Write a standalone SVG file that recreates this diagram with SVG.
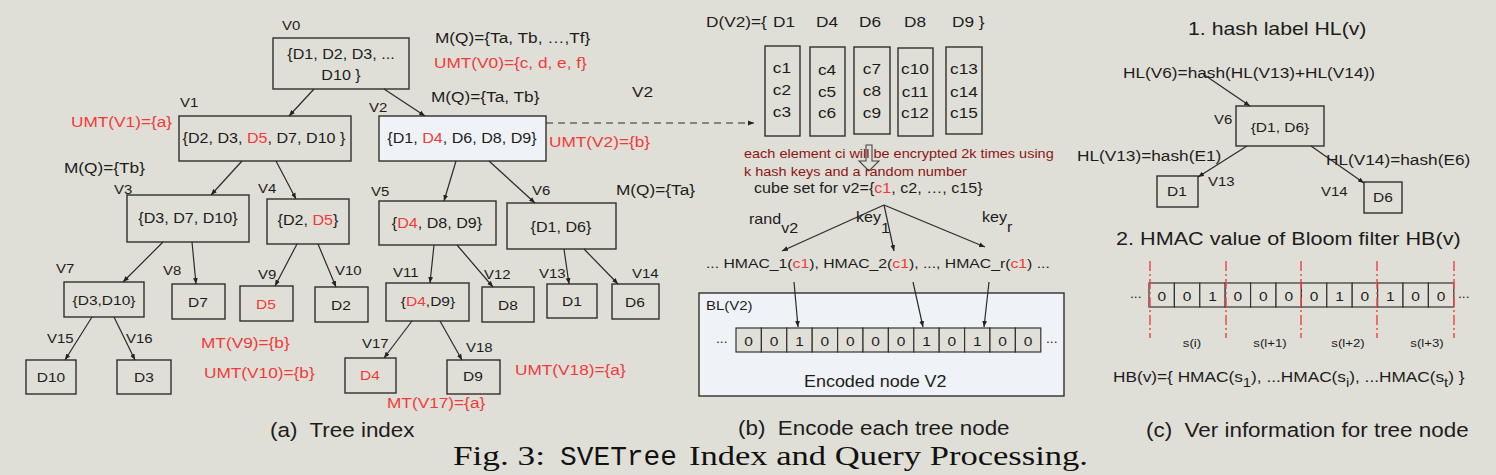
<svg xmlns="http://www.w3.org/2000/svg" width="1496" height="475" viewBox="0 0 1496 475">
<defs>
<style>
text { font-family: "Liberation Sans", Arial, sans-serif; fill: #1c1c1c; transform-box: fill-box; transform-origin: left; transform: scaleX(1.15); }
text.m { text-anchor: middle; transform-origin: center; }
text.ti { font-family: "Liberation Serif", "Times New Roman", serif; font-size: 28px; transform: none; fill: #111; }
text.tm { font-family: "Liberation Mono", "Courier New", monospace; font-size: 27px; transform: none; fill: #111; }
.r { fill: #f23a3a; }
.dr { fill: #8a1616; }
.nt { font-size: 14px; }
.ns { font-size: 13.5px; }
.lb { font-size: 15px; }
.vl { font-size: 13px; }
.cap { font-size: 19.5px; }
.box { fill: none; stroke: #2e2e2e; stroke-width: 1.4; }
.hl { fill: #eff3f8; stroke: #2e2e2e; stroke-width: 1.4; }
.edge { stroke: #2a2a2a; stroke-width: 1.2; fill: none; marker-end: url(#ah); }
.cell { fill: #e1e0d8; stroke: #333; stroke-width: 1.2; }
.sep { stroke: #f04a4a; stroke-width: 1.5; stroke-dasharray: 10 3 2 3; }
</style>
<marker id="ah" viewBox="0 0 10 10" refX="10" refY="5" markerWidth="6" markerHeight="6" orient="auto" markerUnits="userSpaceOnUse">
<path d="M0,1 L10,5 L0,9 z" fill="#222"/>
</marker>
</defs>
<rect x="0" y="0" width="1496" height="475" fill="#e0dfd7"/>

<!-- (a) tree index -->
<g id="V0"><rect class="box" x="273" y="38" width="136" height="51"/>
<text class="m nt" x="341" y="59">{D1, D2, D3, ...</text>
<text class="m nt" x="341" y="80">D10 }</text>
<text class="vl" x="282" y="30">V0</text></g>
<g id="V1"><rect class="box" x="179" y="116" width="172" height="45"/>
<text class="m nt" x="264" y="143">{D2, D3, <tspan class="r">D5</tspan>, D7, D10 }</text>
<text class="vl" x="180" y="107">V1</text></g>
<g id="V2"><rect class="hl" x="379" y="116" width="167" height="45"/>
<text class="m nt" x="462" y="143">{D1, <tspan class="r">D4</tspan>, D6, D8, D9}</text>
<text class="vl" x="369" y="112">V2</text></g>
<g id="V3"><rect class="box" x="127" y="195" width="122" height="47"/>
<text class="m nt" x="188" y="223">{D3, D7, D10}</text>
<text class="vl" x="114" y="194">V3</text></g>
<g id="V4"><rect class="box" x="267" y="199" width="82" height="45"/>
<text class="m nt" x="308" y="225">{D2, <tspan class="r">D5</tspan>}</text>
<text class="vl" x="258" y="193">V4</text></g>
<g id="V5"><rect class="box" x="379" y="201" width="117" height="44"/>
<text class="m nt" x="437" y="228">{<tspan class="r">D4</tspan>, D8, D9}</text>
<text class="vl" x="371" y="196">V5</text></g>
<g id="V6"><rect class="box" x="507" y="203" width="109" height="46"/>
<text class="m nt" x="561" y="232">{D1, D6}</text>
<text class="vl" x="532" y="195">V6</text></g>
<g id="V7"><rect class="box" x="64" y="282" width="80" height="35"/>
<text class="m ns" x="104" y="305">{D3,D10}</text>
<text class="vl" x="56" y="273">V7</text></g>
<g id="V8"><rect class="box" x="172" y="284" width="53" height="35"/>
<text class="m ns" x="198" y="307">D7</text>
<text class="vl" x="163" y="275">V8</text></g>
<g id="V9"><rect class="box" x="240" y="286" width="53" height="35"/>
<text class="m ns r" x="266" y="309">D5</text>
<text class="vl" x="258" y="279">V9</text></g>
<g id="V10"><rect class="box" x="315" y="287" width="53" height="35"/>
<text class="m ns" x="341" y="310">D2</text>
<text class="vl" x="335" y="275">V10</text></g>
<g id="V11"><rect class="box" x="386" y="283" width="83" height="38"/>
<text class="m ns" x="428" y="306">{<tspan class="r">D4</tspan>,D9}</text>
<text class="vl" x="393" y="277">V11</text></g>
<g id="V12"><rect class="box" x="482" y="287" width="52" height="35"/>
<text class="m ns" x="508" y="310">D8</text>
<text class="vl" x="484" y="279">V12</text></g>
<g id="V13"><rect class="box" x="547" y="284" width="50" height="34"/>
<text class="m ns" x="572" y="306">D1</text>
<text class="vl" x="539" y="278">V13</text></g>
<g id="V14"><rect class="box" x="612" y="284" width="47" height="35"/>
<text class="m ns" x="635" y="307">D6</text>
<text class="vl" x="632" y="278">V14</text></g>
<g id="V15"><rect class="box" x="26" y="360" width="50" height="34"/>
<text class="m ns" x="51" y="382">D10</text>
<text class="vl" x="47" y="343">V15</text></g>
<g id="V16"><rect class="box" x="117" y="360" width="54" height="34"/>
<text class="m ns" x="144" y="382">D3</text>
<text class="vl" x="126" y="343">V16</text></g>
<g id="V17"><rect class="box" x="345" y="358" width="51" height="35"/>
<text class="m ns r" x="370" y="380">D4</text>
<text class="vl" x="362" y="348">V17</text></g>
<g id="V18"><rect class="box" x="447" y="360" width="53" height="34"/>
<text class="m ns" x="473" y="381">D9</text>
<text class="vl" x="466" y="352">V18</text></g>

<g id="labels-a">
<text class="lb" x="435" y="43">M(Q)={Ta, Tb, …,Tf}</text>
<text class="lb r" x="434" y="68">UMT(V0)={c, d, e, f}</text>
<text class="lb" x="431" y="102">M(Q)={Ta, Tb}</text>
<text class="lb r" x="71" y="127">UMT(V1)={a}</text>
<text class="lb r" x="549" y="147">UMT(V2)={b}</text>
<text class="lb" x="64" y="173">M(Q)={Tb}</text>
<text class="lb" x="616" y="195">M(Q)={Ta}</text>
<text class="lb r" x="201" y="348">MT(V9)={b}</text>
<text class="lb r" x="204" y="378">UMT(V10)={b}</text>
<text class="lb r" x="515" y="375">UMT(V18)={a}</text>
<text class="lb r" x="387" y="408">MT(V17)={a}</text>
<text class="cap" x="270" y="437" xml:space="preserve">(a)  Tree index</text>
</g>

<!-- (b) encode -->
<g id="b-header">
<text class="lb" x="706" y="27">D(V2)={</text>
<text class="lb" x="773" y="27">D1</text>
<text class="lb" x="816" y="27">D4</text>
<text class="lb" x="859" y="27">D6</text>
<text class="lb" x="904" y="27">D8</text>
<text class="lb" x="952" y="27">D9 }</text>
<text class="lb" x="632" y="97">V2</text>
</g>
<g id="cubes-D1"><rect class="box" x="765" y="46" width="35" height="90"/>
<text class="m lb" x="782" y="73">c1</text><text class="m lb" x="782" y="95">c2</text><text class="m lb" x="782" y="117">c3</text></g>
<g id="cubes-D4"><rect class="box" x="810" y="47" width="35" height="89"/>
<text class="m lb" x="827" y="75">c4</text><text class="m lb" x="827" y="97">c5</text><text class="m lb" x="827" y="118">c6</text></g>
<g id="cubes-D6"><rect class="box" x="854" y="47" width="36" height="87"/>
<text class="m lb" x="872" y="74">c7</text><text class="m lb" x="872" y="96">c8</text><text class="m lb" x="872" y="118">c9</text></g>
<g id="cubes-D8"><rect class="box" x="898" y="48" width="35" height="88"/>
<text class="m lb" x="915" y="74">c10</text><text class="m lb" x="915" y="97">c11</text><text class="m lb" x="915" y="118">c12</text></g>
<g id="cubes-D9"><rect class="box" x="946" y="47" width="36" height="87"/>
<text class="m lb" x="964" y="74">c13</text><text class="m lb" x="964" y="97">c14</text><text class="m lb" x="964" y="118">c15</text></g>

<g id="encrypt-note">
<text class="dr" style="font-size:12.6px" x="744" y="158">each element ci will be encrypted 2k times using</text>
<text class="dr" style="font-size:12.6px" x="744" y="176">k hash keys and a random number</text>
<polygon points="866,145 872,145 872,161 879,161 869,171 859,161 866,161" fill="none" stroke="#444" stroke-width="1.1"/>
<text style="font-size:14px" x="754" y="193">cube set for v2={<tspan class="r">c1</tspan>, c2, …, c15}</text>
<text style="font-size:14px" x="749" y="224">rand<tspan dy="9">v2</tspan></text>
<text style="font-size:14px" x="856" y="222">key<tspan dy="11">1</tspan></text>
<text style="font-size:14px" x="982" y="222">key<tspan dy="10">r</tspan></text>
<text style="font-size:13.7px" x="706" y="268">... HMAC_1(<tspan class="r">c1</tspan>), HMAC_2(<tspan class="r">c1</tspan>), ..., HMAC_r(<tspan class="r">c1</tspan>) ...</text>
</g>

<g id="BL-V2">
<rect class="hl" x="699" y="293" width="365" height="103"/>
<text style="font-size:13px" x="706" y="310">BL(V2)</text>
<rect class="cell" x="736" y="328" width="25.4" height="24"/>
<rect class="cell" x="761.4" y="328" width="25.4" height="24"/>
<rect class="cell" x="786.8" y="328" width="25.4" height="24"/>
<rect class="cell" x="812.2" y="328" width="25.4" height="24"/>
<rect class="cell" x="837.6" y="328" width="25.4" height="24"/>
<rect class="cell" x="863" y="328" width="25.4" height="24"/>
<rect class="cell" x="888.4" y="328" width="25.4" height="24"/>
<rect class="cell" x="913.8" y="328" width="25.4" height="24"/>
<rect class="cell" x="939.2" y="328" width="25.4" height="24"/>
<rect class="cell" x="964.6" y="328" width="25.4" height="24"/>
<rect class="cell" x="990" y="328" width="25.4" height="24"/>
<rect class="cell" x="1015.4" y="328" width="25.4" height="24"/>
<g style="font-size:13.5px">
<text class="m" x="748.7" y="346">0</text><text class="m" x="774.1" y="346">0</text><text class="m" x="799.5" y="346">1</text><text class="m" x="824.9" y="346">0</text>
<text class="m" x="850.3" y="346">0</text><text class="m" x="875.7" y="346">0</text><text class="m" x="901.1" y="346">0</text><text class="m" x="926.5" y="346">1</text>
<text class="m" x="951.9" y="346">0</text><text class="m" x="977.3" y="346">1</text><text class="m" x="1002.7" y="346">0</text><text class="m" x="1028.1" y="346">0</text>
</g>
<text style="font-size:12px" x="716" y="343">...</text>
<text style="font-size:12px" x="1046" y="343">...</text>
<text style="font-size:15.6px" x="804" y="387">Encoded node V2</text>
</g>
<text class="cap" x="738" y="435" xml:space="preserve">(b)  Encode each tree node</text>

<!-- (c) ver information -->
<g id="c-hash">
<text style="font-size:18.5px" x="1188" y="35">1. hash label HL(v)</text>
<text class="lb" x="1123" y="78">HL(V6)=hash(HL(V13)+HL(V14))</text>
<text class="lb" x="1077" y="161">HL(V13)=hash(E1)</text>
<text class="lb" x="1326" y="165">HL(V14)=hash(E6)</text>
</g>
<g id="c-V6"><rect class="box" x="1236" y="106" width="88" height="40"/>
<text class="m ns" x="1280" y="132">{D1, D6}</text>
<text class="vl" x="1214" y="124">V6</text></g>
<g id="c-V13"><rect class="box" x="1157" y="176" width="41" height="31"/>
<text class="m ns" x="1177" y="196">D1</text>
<text class="vl" x="1208" y="186">V13</text></g>
<g id="c-V14"><rect class="box" x="1364" y="182" width="38" height="31"/>
<text class="m ns" x="1383" y="202">D6</text>
<text class="vl" x="1321" y="196">V14</text></g>

<g id="c-hmac">
<text style="font-size:18.8px" x="1116" y="245">2. HMAC value of Bloom filter HB(v)</text>
<rect class="cell" x="1149" y="283" width="25.4" height="24"/>
<rect class="cell" x="1174.4" y="283" width="25.4" height="24"/>
<rect class="cell" x="1199.8" y="283" width="25.4" height="24"/>
<rect class="cell" x="1225.2" y="283" width="25.4" height="24"/>
<rect class="cell" x="1250.6" y="283" width="25.4" height="24"/>
<rect class="cell" x="1276" y="283" width="25.4" height="24"/>
<rect class="cell" x="1301.4" y="283" width="25.4" height="24"/>
<rect class="cell" x="1326.8" y="283" width="25.4" height="24"/>
<rect class="cell" x="1352.2" y="283" width="25.4" height="24"/>
<rect class="cell" x="1377.6" y="283" width="25.4" height="24"/>
<rect class="cell" x="1403" y="283" width="25.4" height="24"/>
<rect class="cell" x="1428.4" y="283" width="25.4" height="24"/>
<g style="font-size:13.5px">
<text class="m" x="1161.7" y="301">0</text><text class="m" x="1187.1" y="301">0</text><text class="m" x="1212.5" y="301">1</text><text class="m" x="1237.9" y="301">0</text>
<text class="m" x="1263.3" y="301">0</text><text class="m" x="1288.7" y="301">0</text><text class="m" x="1314.1" y="301">0</text><text class="m" x="1339.5" y="301">1</text>
<text class="m" x="1364.9" y="301">0</text><text class="m" x="1390.3" y="301">1</text><text class="m" x="1415.7" y="301">0</text><text class="m" x="1441.1" y="301">0</text>
</g>
<line class="sep" x1="1150" y1="261" x2="1150" y2="338"/>
<line class="sep" x1="1226" y1="261" x2="1226" y2="338"/>
<line class="sep" x1="1301" y1="261" x2="1301" y2="338"/>
<line class="sep" x1="1377" y1="261" x2="1377" y2="338"/>
<line class="sep" x1="1454" y1="261" x2="1454" y2="338"/>
<text style="font-size:12px" x="1130" y="298">...</text>
<text style="font-size:12px" x="1458" y="298">...</text>
<g style="font-size:11.5px">
<text class="m" x="1192" y="347">s(i)</text>
<text class="m" x="1270" y="347">s(l+1)</text>
<text class="m" x="1348" y="347">s(l+2)</text>
<text class="m" x="1427" y="347">s(l+3)</text>
</g>
<text class="lb" x="1113" y="382">HB(v)={ HMAC(s<tspan dy="5" style="font-size:13px">1</tspan><tspan dy="-5">), ...HMAC(s</tspan><tspan dy="5" style="font-size:13px">i</tspan><tspan dy="-5">), ...HMAC(s</tspan><tspan dy="5" style="font-size:13px">t</tspan><tspan dy="-5">) }</tspan></text>
</g>
<text class="cap" x="1146" y="437" xml:space="preserve">(c)  Ver information for tree node</text>

<!-- connectors -->
<g id="connectors">
<line class="edge" x1="314" y1="89" x2="289" y2="116"/>
<line class="edge" x1="384" y1="89" x2="425" y2="116"/>
<line class="edge" x1="242" y1="161" x2="211" y2="195"/>
<line class="edge" x1="276" y1="161" x2="296" y2="199"/>
<line class="edge" x1="456" y1="161" x2="444" y2="201"/>
<line class="edge" x1="489" y1="161" x2="535" y2="203"/>
<line class="edge" x1="163" y1="242" x2="123" y2="282"/>
<line class="edge" x1="192" y1="242" x2="196" y2="284"/>
<line class="edge" x1="297" y1="244" x2="275" y2="286"/>
<line class="edge" x1="318" y1="244" x2="336" y2="287"/>
<line class="edge" x1="434" y1="245" x2="430" y2="283"/>
<line class="edge" x1="457" y1="245" x2="493" y2="287"/>
<line class="edge" x1="564" y1="249" x2="569" y2="284"/>
<line class="edge" x1="584" y1="249" x2="618" y2="284"/>
<line class="edge" x1="92" y1="317" x2="65" y2="360"/>
<line class="edge" x1="114" y1="317" x2="135" y2="360"/>
<line class="edge" x1="412" y1="321" x2="384" y2="358"/>
<line class="edge" x1="440" y1="321" x2="462" y2="360"/>
<line class="edge" x1="546" y1="123" x2="754" y2="123" stroke-dasharray="7 5"/>
<line class="edge" x1="884" y1="205" x2="782" y2="251"/>
<line class="edge" x1="884" y1="205" x2="894" y2="251"/>
<line class="edge" x1="884" y1="205" x2="985" y2="247"/>
<line class="edge" x1="794" y1="282" x2="798" y2="327"/>
<line class="edge" x1="913" y1="282" x2="923" y2="327"/>
<line class="edge" x1="989" y1="282" x2="984" y2="327"/>
<line class="edge" x1="1203" y1="74" x2="1250" y2="106"/>
<line class="edge" x1="1247" y1="146" x2="1198" y2="177"/>
<line class="edge" x1="1311" y1="146" x2="1364" y2="183"/>
</g>

<g id="title">
<text class="ti" x="453" y="465" textLength="92" lengthAdjust="spacingAndGlyphs">Fig. 3:</text>
<text class="tm" x="560" y="465" textLength="117" lengthAdjust="spacingAndGlyphs">SVETree</text>
<text class="ti" x="689" y="465" textLength="399" lengthAdjust="spacingAndGlyphs">Index and Query Processing.</text>
</g>
</svg>
